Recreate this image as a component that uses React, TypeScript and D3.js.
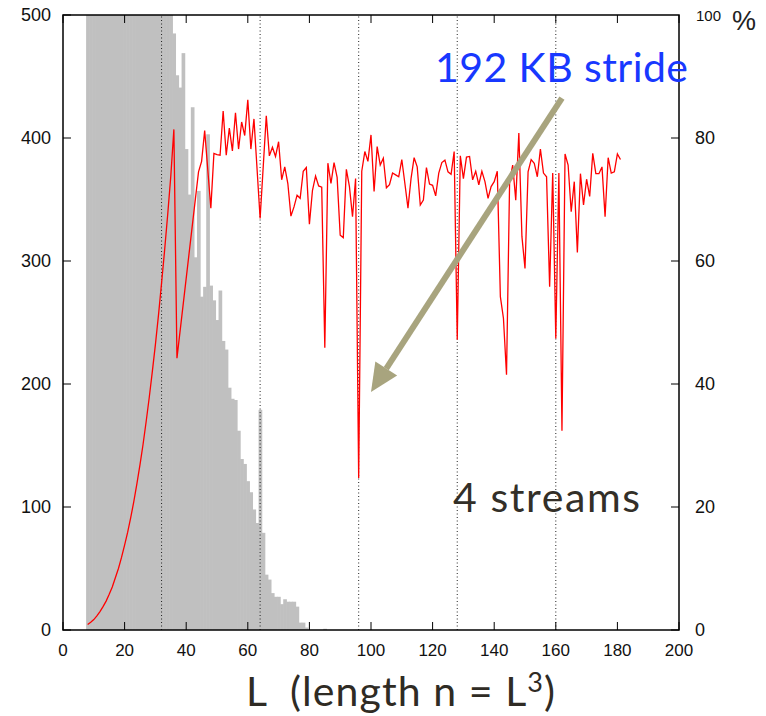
import React from "react";
import * as d3 from "d3";

// histogram: number of runs per L (left axis); values above 500 run off the top
const barL = [
  8, 9, 10, 11, 12, 13, 14, 15, 16, 17, 18, 19, 20, 21, 22, 23, 24, 25, 26, 27,
  28, 29, 30, 31, 32, 33, 34, 35, 36, 37, 38, 39, 40, 41, 42, 43, 44, 45, 46, 47,
  48, 49, 50, 51, 52, 53, 54, 55, 56, 57, 58, 59, 60, 61, 62, 63, 64, 65, 66, 67,
  68, 69, 70, 71, 72, 73, 74, 75, 76, 77, 78, 79, 85,
];
const barCount = [
  900, 900, 900, 900, 900, 900, 900, 900, 900, 900, 900, 900, 900, 900, 900, 900, 900, 900, 900, 900,
  850, 800, 760, 720, 680, 640, 600, 560, 485, 451, 441, 469, 391, 354, 425, 303, 357, 271, 279, 403,
  280, 268, 252, 276, 235, 228, 197, 188, 187, 162, 139, 135, 121, 112, 98, 87, 179, 79, 45, 41,
  30, 27, 27, 21, 25, 23, 23, 23, 19, 6, 6, 2, 1,
];

// red line: percentage per L (right axis)
const lineL = [
  8, 9, 10, 11, 12, 13, 14, 15, 16, 17, 18, 19, 20, 21, 22, 23, 24, 25, 26, 27,
  28, 29, 30, 31, 32, 33, 34, 35, 36, 37, 44, 45, 46, 48, 49, 50, 51, 52, 53, 54,
  55, 56, 57, 58, 59, 60, 61, 62, 64, 66, 67, 68, 69, 70, 71, 72, 73, 74, 75, 76,
  77, 78, 79, 80, 81, 82, 83, 84, 85, 86, 87, 88, 89, 90, 91, 92, 93, 94, 95, 96,
  97, 98, 99, 100, 101, 102, 103, 104, 105, 106, 107, 108, 109, 110, 111, 112, 113, 114, 115, 116,
  117, 118, 119, 120, 121, 122, 123, 124, 125, 126, 127, 128, 129, 130, 131, 132, 133, 134, 135, 136,
  137, 138, 139, 140, 141, 142, 143, 144, 145, 146, 147, 148, 149, 150, 151, 152, 153, 154, 155, 156,
  157, 158, 159, 160, 161, 162, 163, 164, 165, 166, 167, 168, 169, 170, 171, 172, 173, 174, 175, 176,
  177, 178, 179, 180, 181,
];
const linePct = [
  0.9, 1.25, 1.7, 2.3, 3.0, 3.8, 4.7, 5.8, 7.0, 8.5, 10.0, 11.8, 13.8, 15.9, 18.3, 20.9, 23.8, 26.9, 30.2, 33.9,
  37.8, 42.0, 46.4, 51.2, 56.4, 61.8, 67.6, 73.8, 81.4, 44.2, 74.5, 76.2, 81.2, 68.6, 77.5, 77.3, 77.2, 84.4, 77.2, 81.6,
  77.9, 84.1, 78.2, 82.6, 80.4, 86.2, 78.2, 83.1, 66.9, 83.6, 77.1, 78.5, 77.0, 79.4, 73.2, 75.3, 72.6, 67.3, 68.8, 70.7,
  70.2, 74.6, 75.2, 66.0, 71.5, 73.8, 72.2, 72.0, 45.9, 75.9, 72.6, 76.0, 73.6, 64.2, 63.8, 74.9, 72.1, 67.2, 73.4, 24.7,
  74.6, 77.8, 76.2, 80.5, 71.3, 78.6, 75.6, 76.7, 71.9, 72.4, 74.3, 74.0, 73.7, 76.5, 72.6, 68.6, 73.4, 76.8, 75.3, 69.1,
  69.9, 75.2, 72.5, 72.3, 70.6, 74.3, 76.0, 76.4, 74.5, 74.1, 77.8, 47.2, 77.1, 73.4, 76.9, 77.0, 73.2, 74.6, 72.4, 74.6,
  72.9, 70.2, 72.1, 72.9, 74.6, 54.2, 50.7, 41.5, 72.9, 75.6, 69.9, 80.8, 64.0, 58.8, 74.5, 76.5, 75.9, 73.7, 78.2, 74.3,
  73.7, 55.8, 74.3, 47.4, 74.3, 32.4, 77.4, 75.6, 68.0, 72.9, 61.4, 74.2, 69.1, 73.3, 70.5, 77.5, 74.2, 74.2, 75.3, 67.2,
  76.8, 74.3, 74.5, 77.4, 76.5,
];

const stridesL = [32, 64, 96, 128, 160];
const xTicks = [0, 20, 40, 60, 80, 100, 120, 140, 160, 180, 200];
const countTicks = [0, 100, 200, 300, 400, 500];
const pctTicks = [0, 20, 40, 60, 80];

// arrow from the label down to the L=96 dip, in (L, %) units
const arrowFrom = [162, 86.5];
const arrowTo = [100, 38.7];

const W = 766;
const H = 716;
const margin = { top: 15, right: 87, bottom: 86, left: 63 };
const numFont = "'Liberation Sans', Arial, sans-serif";
const textFont = "Lato, 'Open Sans', sans-serif";

export default function App() {
  const x = d3.scaleLinear().domain([0, 200]).range([margin.left, W - margin.right]);
  const yCount = d3.scaleLinear().domain([0, 500]).range([H - margin.bottom, margin.top]);
  const yPct = d3.scaleLinear().domain([0, 100]).range([H - margin.bottom, margin.top]);
  const [x0, x1] = x.range();
  const [y0, y1] = yCount.range();

  const line = d3
    .line<number>()
    .x((d) => x(lineL[d]))
    .y((d) => yPct(linePct[d]));
  const linePath = line(d3.range(lineL.length)) || "";

  // arrow head
  const ax0 = x(arrowFrom[0]);
  const ay0 = yPct(arrowFrom[1]);
  const ax1 = x(arrowTo[0]);
  const ay1 = yPct(arrowTo[1]);
  const len = Math.hypot(ax1 - ax0, ay1 - ay0);
  const ux = (ax1 - ax0) / len;
  const uy = (ay1 - ay0) / len;
  const headLen = 28;
  const headW = 13;
  const bx = ax1 - ux * headLen;
  const by = ay1 - uy * headLen;
  const head = `M${ax1},${ay1}L${bx - uy * headW},${by + ux * headW}L${bx + uy * headW},${by - ux * headW}Z`;

  return (
    <svg width={W} height={H} style={{ position: "absolute", left: 0, top: 0, background: "#fff" }}>
      <defs>
        <clipPath id="plot">
          <rect x={x0} y={y1} width={x1 - x0} height={y0 - y1} />
        </clipPath>
      </defs>

      <g clipPath="url(#plot)">
        {barL.map((L, i) => (
          <rect
            key={L}
            x={x(L - 0.5)}
            y={yCount(barCount[i])}
            width={x(L + 0.5) - x(L - 0.5) + 0.6}
            height={y0 - yCount(barCount[i])}
            fill="#c0c0c0"
          />
        ))}
        {stridesL.map((L) => (
          <line key={L} x1={x(L)} x2={x(L)} y1={y0} y2={y1} stroke="#222" strokeWidth={1} strokeDasharray="1,2.5" />
        ))}
        <path d={linePath} fill="none" stroke="#ff0000" strokeWidth={1.3} strokeLinejoin="miter" />
      </g>

      <line x1={ax0} y1={ay0} x2={bx} y2={by} stroke="#a8a47e" strokeWidth={6} />
      <path d={head} fill="#a8a47e" />

      <rect x={x0} y={y1} width={x1 - x0} height={y0 - y1} fill="none" stroke="#000" strokeWidth={1.5} />

      {xTicks.map((t) => (
        <g key={t}>
          <line x1={x(t)} x2={x(t)} y1={y0} y2={y0 - 8} stroke="#000" />
          <line x1={x(t)} x2={x(t)} y1={y1} y2={y1 + 8} stroke="#000" />
          <text x={x(t)} y={y0 + 26} textAnchor="middle" fontFamily={numFont} fontSize={17} fill="#111">
            {t}
          </text>
        </g>
      ))}
      {countTicks.map((t) => (
        <g key={t}>
          <line x1={x0} x2={x0 + 8} y1={yCount(t)} y2={yCount(t)} stroke="#000" />
          <text x={51} y={yCount(t)} dy="0.36em" textAnchor="end" fontFamily={numFont} fontSize={18} fill="#111">
            {t}
          </text>
        </g>
      ))}
      {pctTicks.map((t) => (
        <g key={t}>
          <line x1={x1 - 8} x2={x1} y1={yPct(t)} y2={yPct(t)} stroke="#000" />
          <text x={695} y={yPct(t)} dy="0.36em" fontFamily={numFont} fontSize={18} fill="#111">
            {t}
          </text>
        </g>
      ))}
      <text x={696} y={21} fontFamily={numFont} fontSize={15} fill="#111">
        100
      </text>
      <text x={732} y={30} fontFamily={numFont} fontSize={27} fill="#222">
        %
      </text>

      <text x={435} y={82} fontFamily={textFont} fontSize={41} fill="#1838ff" textLength={253} lengthAdjust="spacing">
        192 KB stride
      </text>
      <text x={453} y={512} fontFamily={textFont} fontSize={41} fill="#332f28" textLength={187} lengthAdjust="spacing">
        4 streams
      </text>
      <text
        x={246}
        y={706}
        fontFamily={textFont}
        fontSize={41}
        fill="#2f2b24"
        xmlSpace="preserve"
        textLength={309}
        lengthAdjust="spacing"
      >
        {"L  (length n = L"}
        <tspan fontSize={27} dy={-14}>3</tspan>
        <tspan dy={14}>)</tspan>
      </text>
    </svg>
  );
}
